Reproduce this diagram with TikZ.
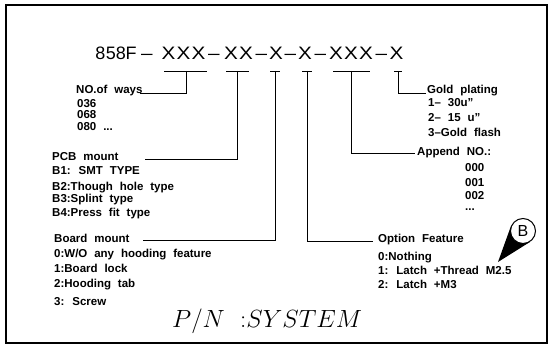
\documentclass[tikz,border=0pt]{standalone}
\usepackage{fontspec}
\setmainfont{Liberation Sans}
\newfontfamily\titlefont{Liberation Sans}
\usetikzlibrary{calc}
\pgfdeclarelayer{background}
\pgfsetlayers{background,main}
\newcommand\lblfont{\bfseries\fontsize{11.5}{13}\selectfont\spaceskip=0.6em plus 0.1em\relax}
\newcommand\dq{\char"22\relax}
\begin{document}
\begin{tikzpicture}[x=1pt,y=-1pt,
  lbl/.style={anchor=base west,inner sep=0pt,font={\lblfont}},
  ttl/.style={anchor=base,inner sep=0pt,font={\titlefont\fontsize{18}{20}\selectfont}},
  lead/.style={line width=0.9pt},
  frame/.style={line width=1.3pt}]
\useasboundingbox (0,0) rectangle (552,350);
\draw[frame] (6,5) rectangle (547,343);
% title characters
\foreach \c/\x [count=\i] in {8/100.5,5/111,8/121,F/131}
  \node[ttl] (t\i) at (\x,60) {\c};
\foreach \x [count=\i] in {168.5,183.5,198.5,231,246,276,305,336,351,366,396.5}
  \node[ttl] (x\i) at (\x,60) {\scalebox{1.15}[1]{X}};
\foreach \x [count=\i] in {147,214,261.5,290.5,320.5,381.5}
  \node[ttl] (d\i) at (\x,60) {\scalebox{1.15}[1]{–}};
% underlines
\draw[lead] (164,71) -- (207,71);
\draw[lead] (226,71) -- (249,71);
\draw[lead] (270,71) -- (280,71);
\draw[lead] (302,71) -- (312,71);
\draw[lead] (333,71) -- (370,71);
\draw[lead] (394,71) -- (402,71);
\coordinate (u1) at (186,71);
\coordinate (u2) at (237,71);
\coordinate (u3) at (275,71);
\coordinate (u4) at (307,71);
\coordinate (u5) at (351,71);
\coordinate (u6) at (398,71);
\coordinate (e1) at (140,93);
\coordinate (e2) at (145,159);
\coordinate (e3) at (143,240);
\coordinate (e4) at (373,241);
\coordinate (e5) at (415,153);
\coordinate (e6) at (426,93);
\foreach \i in {1,...,6} \draw[lead] (u\i) |- (e\i);
% left labels
\node[lbl] (ways) at (76,94) {NO.of ways};
\node[lbl] (w1) at (77,108) {036};
\node[lbl] (w2) at (77,119) {068};
\node[lbl] (w3) at (77,131) {080 ...};
\node[lbl] (pcb) at (52,161) {PCB mount};
\node[lbl] (p1) at (52,175) {B1: SMT TYPE};
\node[lbl] (p2) at (52,190) {B2:Though hole type};
\node[lbl] (p3) at (52,203) {B3:Splint type};
\node[lbl] (p4) at (52,217) {B4:Press fit type};
\node[lbl] (brd) at (54,242) {Board mount};
\node[lbl] (b0) at (54,258) {0:W/O any hooding feature};
\node[lbl] (b1) at (54,272) {1:Board lock};
\node[lbl] (b2) at (54,287) {2:Hooding tab};
\node[lbl] (b3) at (54,305) {3: Screw};
% right labels
\node[lbl] (gold) at (427,94) {Gold plating};
\node[lbl] (g1) at (428,107) {1– 30u\dq};
\node[lbl] (g2) at (428,122) {2– 15 u\dq};
\node[lbl] (g3) at (428,137) {3–Gold flash};
\node[lbl] (app) at (417,156) {Append NO.:};
\node[lbl] (a1) at (465,172) {000};
\node[lbl] (a2) at (465,186) {001};
\node[lbl] (a3) at (465,200) {002};
\node[lbl] (a4) at (465,211) {...};
\node[lbl] (opt) at (378,242) {Option Feature};
\node[lbl] (o0) at (378,260) {0:Nothing};
\node[lbl] (o1) at (378,274) {1: Latch +Thread M2.5};
\node[lbl] (o2) at (378,288) {2: Latch +M3};
% balloon B
\node[circle,draw,fill=white,line width=1pt,minimum size=25pt,inner sep=0pt,
      font={\titlefont\fontsize{16}{17}\selectfont}] (bc) at (523,231) {B};
\coordinate (tip) at (498,262);
\begin{pgfonlayer}{background}
\fill (tip) -- (tangent cs:node=bc,point={(tip)},solution=1) -- (bc.center)
      -- (tangent cs:node=bc,point={(tip)},solution=2) -- cycle;
\end{pgfonlayer}
% P/N
\node[anchor=base west,inner sep=0pt,font={\fontsize{23}{26}\selectfont}] (pn) at (172,327) {$P/N$};
\node[anchor=base west,inner sep=0pt,font={\fontsize{23}{26}\selectfont}] (sys) at (240,327) {${:}SYSTEM$};
\end{tikzpicture}
\end{document}
